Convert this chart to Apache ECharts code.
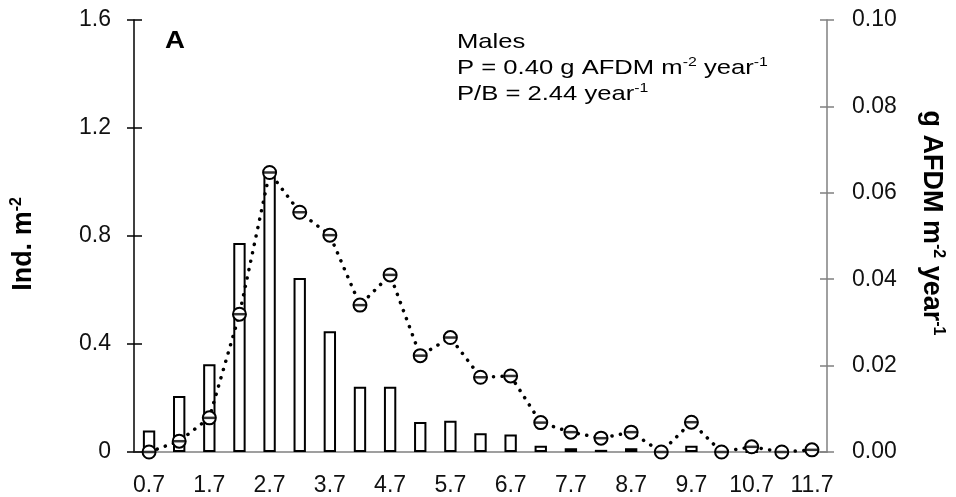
<!DOCTYPE html>
<html>
<head>
<meta charset="utf-8">
<script src="https://cdn.jsdelivr.net/npm/echarts@6/dist/echarts.min.js"></script>
<style>
	* {
		margin: 0;
		padding: 0;
	}

	#main {
		width: 956px;
		height: 497px;
	}
</style>
</head>
<body>
<div id="main"></div>
<script>
	// size classes (mm) on the x axis
	var sizeClasses = ['0.7', '1.2', '1.7', '2.2', '2.7', '3.2', '3.7', '4.2', '4.7', '5.2', '5.7', '6.2',
		'6.7', '7.2', '7.7', '8.2', '8.7', '9.2', '9.7', '10.2', '10.7', '11.2', '11.7'];
	// bars: Ind. m-2 (left axis)
	var density = [0.080, 0.207, 0.325, 0.774, 1.032, 0.644, 0.447, 0.242, 0.242, 0.111, 0.116, 0.069,
		0.065, 0.023, 0.014, 0.008, 0.014, 0, 0.023, 0, 0, 0, 0];
	// dotted line: g AFDM m-2 year-1 (right axis)
	var production = [0.0000, 0.0025, 0.0079, 0.0319, 0.0647, 0.0555, 0.0502, 0.0340, 0.0410, 0.0223,
		0.0265, 0.0173, 0.0176, 0.0068, 0.0046, 0.0032, 0.0046, 0.0000, 0.0069, 0.0000, 0.0012, 0.0000, 0.0005];
	var leftTicks = [0, 0.4, 0.8, 1.2, 1.6];
	var rightTicks = [0, 0.02, 0.04, 0.06, 0.08, 0.10];

	var font = 'Liberation Sans, Arial, sans-serif';
	var grey = '#808080';
	var nameRich = {
		b: { fontSize: 27, fontWeight: 'bold', fontFamily: font, color: '#000', lineHeight: 30 },
		s: { fontSize: 16, fontWeight: 'bold', fontFamily: font, color: '#000', lineHeight: 17, verticalAlign: 'top' }
	};

	var chart = echarts.init(document.getElementById('main'));
	chart.setOption({
		animation: false,
		textStyle: { fontFamily: font },
		grid: { left: 134, right: 129, top: 20, bottom: 45 },
		xAxis: [{
			type: 'category',
			data: sizeClasses,
			position: 'bottom',
			axisLine: { lineStyle: { color: grey, width: 1.5 } },
			axisTick: { interval: 0, length: 7, lineStyle: { color: grey, width: 1.5 } },
			axisLabel: { interval: 1, margin: 22, fontSize: 23, color: '#111', fontFamily: font }
		}, {
			// inner half of the crossing ticks
			type: 'category',
			data: sizeClasses,
			position: 'bottom',
			axisLine: { show: false },
			axisTick: { interval: 0, inside: true, length: 8, lineStyle: { color: grey, width: 1.5 } },
			axisLabel: { show: false }
		}],
		yAxis: [{
			type: 'value',
			position: 'left',
			min: leftTicks[0],
			max: leftTicks[leftTicks.length - 1],
			interval: 0.4,
			splitLine: { show: false },
			axisLine: { show: true, lineStyle: { color: '#000', width: 1.5 } },
			axisTick: { show: true, length: 7, lineStyle: { color: '#000', width: 1.5 } },
			axisLabel: { margin: 23, fontSize: 23, color: '#111', fontFamily: font },
			name: '{b|Ind. m}{s|-2}',
			nameLocation: 'middle',
			nameRotate: 90,
			nameGap: 95,
			nameTextStyle: { rich: nameRich, padding: [0, 16, 0, 0] }
		}, {
			type: 'value',
			position: 'right',
			min: rightTicks[0],
			max: rightTicks[rightTicks.length - 1],
			interval: 0.02,
			splitLine: { show: false },
			axisLine: { show: true, lineStyle: { color: grey, width: 1.5 } },
			axisTick: { show: true, length: 7, lineStyle: { color: grey, width: 1.5 } },
			axisLabel: {
				margin: 25, fontSize: 23, color: '#111', fontFamily: font,
				formatter: function(v) { return v.toFixed(2); }
			},
			name: '{b|g AFDM m}{s|-2}{b| year}{s|-1}',
			nameLocation: 'middle',
			nameRotate: -90,
			nameGap: 89,
			nameTextStyle: { rich: nameRich, padding: [0, 26, 0, 0] }
		}, {
			// inner halves of the crossing ticks
			type: 'value', position: 'left', min: 0, max: 1.6, interval: 0.4,
			splitLine: { show: false }, axisLine: { show: false }, axisLabel: { show: false },
			axisTick: { show: true, inside: true, length: 8, lineStyle: { color: '#000', width: 1.5 } }
		}, {
			type: 'value', position: 'right', min: 0, max: 0.1, interval: 0.02,
			splitLine: { show: false }, axisLine: { show: false }, axisLabel: { show: false },
			axisTick: { show: true, inside: true, length: 7, lineStyle: { color: grey, width: 1.5 } }
		}],
		series: [{
			name: 'Ind. m-2',
			type: 'bar',
			yAxisIndex: 0,
			data: density,
			barWidth: '41%',
			itemStyle: { color: '#fff', borderColor: '#000', borderWidth: 2 },
			z: 2
		}, {
			name: 'g AFDM',
			type: 'line',
			yAxisIndex: 1,
			data: production,
			symbol: 'emptyCircle',
			symbolSize: 13,
			lineStyle: { color: '#000', width: 3.5, type: [0.1, 8.5], cap: 'round' },
			itemStyle: { color: '#000', borderColor: '#000', borderWidth: 2.8 },
			z: 3
		}, {
			// bar inside each circle
			type: 'scatter',
			yAxisIndex: 1,
			data: production,
			symbol: 'rect',
			symbolSize: [12, 2.5],
			itemStyle: { color: '#000' },
			z: 4
		}],
		graphic: [{
			type: 'text',
			left: 165,
			top: 29,
			scaleX: 1.15,
			style: { text: 'A', fontSize: 24, fontWeight: 'bold', fontFamily: font, fill: '#000' }
		}, {
			type: 'text',
			left: 457,
			top: 32,
			scaleX: 1.22,
			style: {
				text: '{t|Males}\n{t|P = 0.40 g AFDM m}{s|-2}{t| year}{s|-1}\n{t|P/B = 2.44 year}{s|-1}',
				rich: {
					t: { fontSize: 21, fontFamily: font, fill: '#000', lineHeight: 26 },
					s: { fontSize: 13, fontFamily: font, fill: '#000', lineHeight: 15, verticalAlign: 'top' }
				}
			}
		}]
	});
</script>
</body>
</html>
